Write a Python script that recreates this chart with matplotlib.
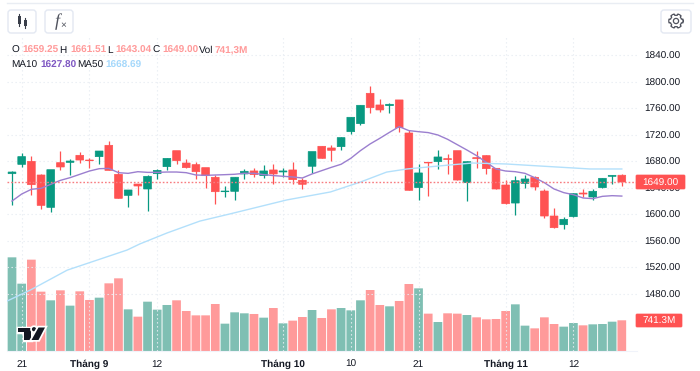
import matplotlib
matplotlib.use("Agg")
import matplotlib.pyplot as plt
import matplotlib.patheffects as pe
from matplotlib.patches import FancyBboxPatch, Polygon, Circle, Rectangle
import numpy as np

plt.rcParams['font.family'] = ['Liberation Sans', 'DejaVu Sans']
plt.rcParams['text.hinting'] = 'no_hinting'
plt.rcParams['text.hinting_factor'] = 1

opens = [1661.6, 1675.7, 1680.2, 1659.6, 1610.8, 1678.2, 1678.7, 1689.3, 1682.2, 1687.3, 1704.4,
         1660.6, 1628.9, 1646, 1638.5, 1661.6, 1672.2, 1696.3, 1677.7, 1675.2, 1670.7, 1656.1, 1634.4,
         1635, 1661.2, 1665.7, 1658.7, 1667.2, 1664.2, 1667.2, 1651.6, 1672.8, 1702.9, 1700.4, 1702.4,
         1725, 1737.1, 1782.9, 1765.3, 1764.3, 1772.9, 1723, 1640.6, 1678.8, 1679.8, 1684.3, 1696.3,
         1648, 1685.8, 1688.8, 1669.7, 1644.5, 1617.3, 1647, 1656.1, 1635.4, 1597.7, 1584.6, 1596.7,
         1632.4, 1626.4, 1640.5, 1657.6, 1659.25]
highs = [1666.1, 1693.3, 1688.8, 1660.6, 1667.6, 1695.8, 1683.7, 1693.8, 1685.7, 1695.8, 1710.9,
         1666.6, 1637, 1646, 1659.6, 1668.6, 1684.7, 1696.3, 1683.7, 1679.2, 1670.7, 1659.6, 1643,
         1656.2, 1668.7, 1670.7, 1674.8, 1676.3, 1670.7, 1678.8, 1654.6, 1694.9, 1702.9, 1704.4, 1717,
         1746.7, 1765.8, 1794, 1773.9, 1767.8, 1772.9, 1727.6, 1676.8, 1678.8, 1697.4, 1691.4, 1696.3,
         1681.2, 1695.3, 1689.8, 1669.7, 1652, 1658.6, 1659.1, 1658.1, 1638, 1609.3, 1595.7, 1631.9,
         1638, 1638, 1654.6, 1660.1, 1661.51]
lows = [1614.3, 1672.2, 1628.9, 1607.8, 1603.2, 1667.1, 1659.6, 1677.2, 1669.6, 1675.7, 1666.6,
        1624.4, 1611.8, 1628.9, 1605.3, 1653.6, 1667.1, 1676.2, 1670.7, 1653.6, 1640.5, 1615.8, 1626.9,
        1621.9, 1654.1, 1657.2, 1654.6, 1645.6, 1657.2, 1646.1, 1638, 1663.2, 1684.8, 1680.8, 1697.9,
        1721, 1735.1, 1752.7, 1754.2, 1752.7, 1724.6, 1636.5, 1622.4, 1628, 1669.2, 1660.7, 1652,
        1620.9, 1669.7, 1661.1, 1638.5, 1616.3, 1599.7, 1640, 1637, 1595.2, 1580.1, 1577.6, 1595.7,
        1625.9, 1621.9, 1640.5, 1646.5, 1643.04]
closes = [1664.1, 1687.3, 1645, 1613.8, 1667.6, 1671.7, 1680.7, 1682.2, 1681.2, 1695.8, 1666.6,
          1624.4, 1637, 1643, 1657.6, 1666.6, 1684.7, 1681.2, 1670.7, 1664.6, 1658.6, 1634.4, 1635.4,
          1656.2, 1665.2, 1660.2, 1665.7, 1661.2, 1665.7, 1652.6, 1645.6, 1694.9, 1684.8, 1696.9, 1716,
          1746.7, 1764.8, 1761.3, 1757.8, 1766.3, 1731.1, 1636.5, 1662.7, 1677.8, 1686.8, 1682.8, 1652,
          1679.7, 1684.2, 1669.2, 1638.5, 1616.3, 1651, 1653.6, 1641.5, 1597.7, 1580.1, 1592.7, 1631.4,
          1630.9, 1635, 1654.6, 1659.1, 1649.0]
volumes = [2262, 1626, 2206, 1433, 1224, 1465, 1095, 1441, 1232, 1288, 1634, 1755, 1006, 829, 1191, 998,
           1111, 1224, 966, 861, 861, 1135, 660, 934, 910, 894, 805, 1038, 668, 733, 821, 990,
           797, 1006, 1038, 982, 1224, 1473, 1111, 1079, 1208, 1618, 1513, 902, 700, 910, 902, 869,
           813, 765, 773, 966, 1127, 612, 547, 813, 652, 588, 676, 620, 644, 652, 708, 741.3]
ma10 = [1620.3, 1630.9, 1638, 1639.5, 1645.5, 1651.5, 1655.6, 1660.6, 1665.6, 1669.1, 1669.6, 1663.1,
        1662.1, 1664.6, 1663.6, 1663.6, 1664.1, 1664.1, 1663.1, 1659.6, 1659.1, 1659.6, 1660.1,
        1660.7, 1662.2, 1662.2, 1660.2, 1658.7, 1657.7, 1656.6, 1655.1, 1661.2, 1666.2, 1671.2, 1675.8,
        1684.8, 1696.4, 1706.5, 1715, 1724, 1732.6, 1726.6, 1725, 1723.6, 1720, 1713.5, 1705.4,
        1697.3, 1688.8, 1678.7, 1668.7, 1665.6, 1664.6, 1662.1, 1655.6, 1648, 1638.5, 1633, 1629.9,
        1624.9, 1623.9, 1627.4, 1628.4, 1627.8]
ma50_bars = [-0.5, 1.9, 5.7, 11.9, 13.2, 16, 19.4, 22.5, 28.4, 32.9, 36, 38.7, 40.8, 45.2, 47.6, 51.1, 54.5, 58, 59.7, 63]
ma50 = [1469.4, 1486, 1516, 1546.4, 1555.5, 1572, 1590, 1600.8, 1622, 1634, 1649, 1664, 1668.7, 1674.7,
        1677.7, 1676.2, 1673.2, 1670.2, 1668.7, 1668.69]
price_ticks = [1480, 1520, 1560, 1600, 1640, 1680, 1720, 1760, 1800, 1840]
date_bars = [1, 8, 15, 28, 35, 42, 51, 58]
date_labels = ['21', 'Tháng 9', '12', 'Tháng 10', '10', '21', 'Tháng 11', '12']
month_labels = ['Tháng 9', 'Tháng 10', 'Tháng 11']

UP = '#089981'
DOWN = '#ff5252'
UP_VOL = '#7fbfb3'
DOWN_VOL = '#ff9a9a'
TEXT = '#131722'
FS = 7.0
W, H = 700, 371
L, R, T, B = 7, 637, 36, 351

fig = plt.figure(figsize=(7, 3.71), dpi=100, facecolor='white')
rect = [L / W, 1 - B / H, (R - L) / W, (B - T) / H]
xlim = (-0.517, 64.57)

# volume sits under the candles
ax_vol = fig.add_axes(rect)
ax_vol.set_xlim(xlim)
ax_vol.set_ylim(0, 7607)
ax_vol.axis('off')

ax = fig.add_axes(rect, facecolor='none')
ax.set_xlim(xlim)
ax.set_ylim(1393.96, 1869.4)
for s in ['top', 'left', 'right']:
    ax.spines[s].set_visible(False)
ax.spines['bottom'].set_color('#f0f3fa')
ax.yaxis.tick_right()
ax.set_yticks(price_ticks)
ax.set_yticklabels([f"{p:.2f}" for p in price_ticks], fontsize=FS, color=TEXT)
ax.set_xticks(date_bars)
ax.set_xticklabels(date_labels, fontsize=FS, color=TEXT)
for lab in ax.get_xticklabels():
    if lab.get_text() in month_labels:
        lab.set_fontweight('bold')
ax.tick_params(axis='both', length=0)
ax.tick_params(axis='y', pad=5)
ax.tick_params(axis='x', pad=6)
ax.grid(True, color='#e9edf3', linestyle=(0, (1.2, 2.4)), linewidth=0.8)
ax.set_axisbelow(True)

x = np.arange(len(closes))
o, h, l, c = map(np.array, (opens, highs, lows, closes))
up = c >= o
colors = np.where(up, UP, DOWN)
vol_colors = np.where(up, UP_VOL, DOWN_VOL)

vol_bars = ax_vol.bar(x, volumes, width=0.9, color=vol_colors, linewidth=0)
ax.vlines(x, l, h, colors=colors, linewidth=0.9, zorder=3)
bodies = ax.bar(x, np.abs(c - o), bottom=np.minimum(o, c), width=0.8, color=colors,
                edgecolor=colors, linewidth=0.5, zorder=4)
for b in list(vol_bars) + list(bodies):
    b.set_snap(False)

ax.plot(x, ma10, color='#9b7fcf', linewidth=1.0, zorder=5, solid_joinstyle='round')
ax.plot(ma50_bars, ma50, color='#b3e0fb', linewidth=1.0, zorder=5)
ax.axhline(closes[-1], color='#f77c80', linestyle=(0, (1.2, 1.4)), linewidth=1.0, zorder=6)

# overlay in pixel coordinates for the toolbar, legend and tags
ov = fig.add_axes([0, 0, 1, 1], facecolor='none')
ov.set_xlim(0, W)
ov.set_ylim(H, 0)
ov.axis('off')

ov.plot([7, 693], [3, 3], color='#e9edf3', linewidth=1)
for x0, x1, y0, y1 in [(8, 36, 10, 33), (45, 73, 10, 33), (661, 691, 10, 33)]:
    ov.add_patch(FancyBboxPatch((x0 + 3, y0 + 3), x1 - x0 - 6, y1 - y0 - 6, boxstyle='round,pad=3',
                                facecolor='white', edgecolor='#e3e8f2', linewidth=1))

# candle icon
for cx, y0, y1, b0, b1 in [(19, 14, 26, 16, 24), (25, 18, 28, 20, 26)]:
    ov.plot([cx, cx], [y0, y1], color='#3a3f4a', linewidth=0.8)
    ov.add_patch(Rectangle((cx - 1.5, b0), 3, b1 - b0, color='#3a3f4a', linewidth=0))

# fx icon
ov.text(57.5, 21.5, 'f', family='Liberation Serif', style='italic', fontsize=13, color='#50535e',
        ha='center', va='center')
ov.text(63, 26, '×', fontsize=7, color='#50535e', ha='center', va='center')

# gear icon
ang = np.linspace(0, 2 * np.pi, 97)
rad = 7.2 - 1.5 * (np.cos(6 * ang) < -0.2)
ov.plot(676 + rad * np.cos(ang), 21 + rad * np.sin(ang), color='#50535e', linewidth=0.9)
ov.add_patch(Circle((676, 21), 2.6, facecolor='none', edgecolor='#50535e', linewidth=0.9))

# OHLC legend
red_txt = '#ff9a9a'
legend_row = [(11.5, 'O', TEXT), (22, '1659.25', red_txt), (59, 'H', TEXT), (70, '1661.51', red_txt),
              (107, 'L', TEXT), (115, '1643.04', red_txt), (152, 'C', TEXT), (162, '1649.00', red_txt),
              (199, 'Vol', TEXT), (215, '741,3M', red_txt)]
for px, s, col in legend_row:
    ov.text(px, 50.5, s, fontsize=FS, color=col, va='center',
            fontweight='bold' if col != TEXT else 'normal')
ma_row = [(11.5, 'MA10', TEXT, 'normal'), (40, '1627.80', '#7e57c2', 'bold'),
          (77, 'MA50', TEXT, 'normal'), (105, '1668.69', '#a5d8fb', 'bold')]
for px, s, col, wgt in ma_row:
    ov.text(px, 65.5, s, fontsize=FS, color=col, va='center', fontweight=wgt)

# last value tags
for x0, x1, y0, y1, s in [(636, 685, 175, 189, '1649.00'), (636, 682, 314, 327, '741.3M')]:
    ov.add_patch(FancyBboxPatch((x0 + 1, y0 + 1), x1 - x0 - 2, y1 - y0 - 2, boxstyle='round,pad=1',
                                facecolor=DOWN, edgecolor=DOWN, linewidth=0.5, zorder=8))
    ov.text((x0 + x1) / 2, (y0 + y1) / 2 + 1.0, s, fontsize=FS, color='white', ha='center', va='center', zorder=9)

# tradingview mark
halo = [pe.withStroke(linewidth=2.5, foreground='white')]
logo = [Polygon([(17.5, 327.5), (30.5, 327.5), (30.5, 340), (24, 340), (24, 332), (17.5, 332)]),
        Circle((34, 329.2), 2.1),
        Polygon([(38.5, 327.5), (45, 327.5), (38.5, 340), (31.5, 340)])]
for p in logo:
    p.set_facecolor('#131722')
    p.set_edgecolor('none')
    p.set_path_effects(halo)
    p.set_zorder(7)
    ov.add_patch(p)

fig.savefig('out.png', dpi=100)
